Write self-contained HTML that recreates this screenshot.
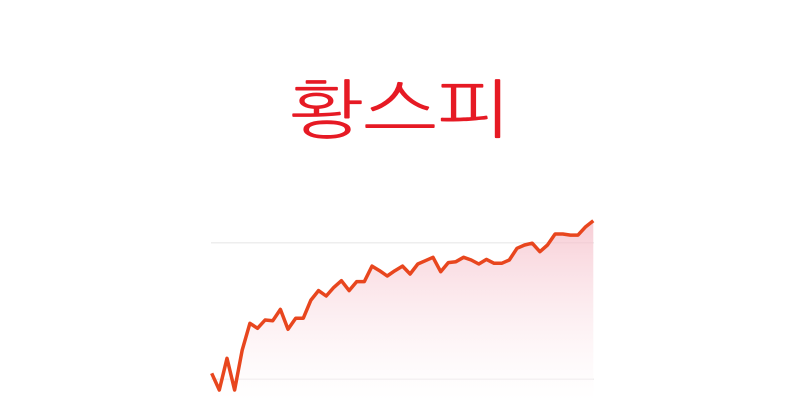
<!DOCTYPE html>
<html><head><meta charset="utf-8"><style>
html,body{margin:0;padding:0;background:#fff;width:800px;height:400px;overflow:hidden}
#title{position:absolute;left:0;width:800px;top:70px;text-align:center;font:64px "Liberation Sans","NanumGothic","Noto Sans CJK KR",sans-serif;color:#e61a24;line-height:80px;transform:scaleX(1.23);transform-origin:400px 0}
svg{position:absolute;left:0;top:0}
</style></head><body>
<div id="title">황스피</div>
<svg id="chart" width="800" height="400">
<defs><linearGradient id="g" x1="0" y1="0" x2="0" y2="1"><stop offset="0" stop-color="#f4b8c4" stop-opacity="0.7"/><stop offset="1" stop-color="#fff" stop-opacity="0.3"/></linearGradient></defs>
</svg>
<script>
const values=[4.4,-7.8,15.4,-7.8,21.4,41,37.3,43.4,42.9,51.2,36.6,44.7,44.7,58,64.9,61,67.3,72.2,64.9,71.5,71.5,82.9,79.5,75.6,79.5,82.9,77.1,84.4,86.8,89.3,78.8,85.4,86.1,89.3,87.3,84.4,87.8,84.9,84.9,87.3,95.9,98.3,99.6,93.4,98.3,106.4,106.4,105.6,105.6,111.7,116.1];
const gridValues=[0,100];
const svg=document.getElementById('chart');
const NS='http://www.w3.org/2000/svg';
const x0=211.7,x1=593.3,yZero=379.3,yHundred=242.7;
const xs=i=>x0+(x1-x0)*i/(values.length-1);
const ys=v=>yZero-(yZero-yHundred)*v/100;
gridValues.forEach(g=>{const l=document.createElementNS(NS,'line');


l.setAttribute('x1',211);l.setAttribute('x2',594);l.setAttribute('y1',ys(g));l.setAttribute('y2',ys(g));l.setAttribute('stroke','#eeeeee');l.setAttribute('stroke-width','1.5');svg.appendChild(l);});
let d=values.map((v,i)=>(i?'L':'M')+xs(i).toFixed(1)+','+ys(v).toFixed(1)).join(' ');
const area=document.createElementNS(NS,'path');


area.setAttribute('d',d+` L${x1},400 L${x0},400 Z`);area.setAttribute('fill','url(#g)');svg.appendChild(area);
const line=document.createElementNS(NS,'path');


line.setAttribute('d',d);line.setAttribute('fill','none');line.setAttribute('stroke','#e8461e');line.setAttribute('stroke-width','3.5');line.setAttribute('stroke-linejoin','round');svg.appendChild(line);
</script>
</body></html>
